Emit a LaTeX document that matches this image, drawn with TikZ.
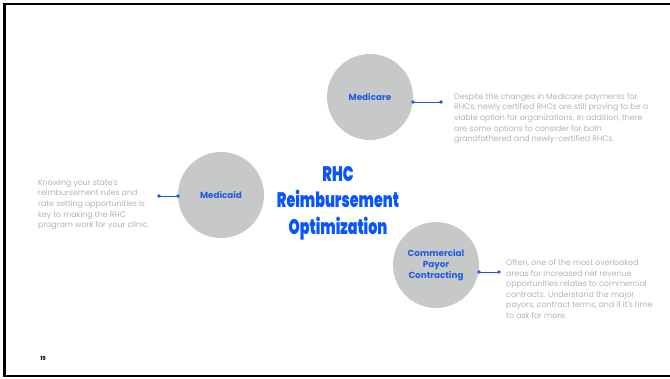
\documentclass[tikz,border=0pt]{standalone}
\usepackage{fontspec}
\usepackage{graphicx}
\setmainfont{Poppins}
\newfontfamily\bodyfont{Poppins}[UprightFont={* Light}]
\newfontfamily\titlefont{Poppins}[UprightFont={* Black}]
\usetikzlibrary{positioning, calc, arrows.meta}

\definecolor{bubblegray}{HTML}{C7C9C9}
\definecolor{labelblue}{HTML}{1D5BE6}
\definecolor{titleblue}{HTML}{0B55FF}
\definecolor{notegray}{HTML}{A0A0A0}

\tikzset{
    bubble/.style={circle, fill=bubblegray, minimum size=86pt, inner sep=0pt,
        font=\fontsize{8.8}{11}\selectfont\bfseries, text=labelblue, align=center},
    note/.style={font=\bodyfont\fontsize{7.9}{10.6}\selectfont, text=notegray,
        align=left, inner sep=0pt},
    link/.style={labelblue, line width=0.8pt},
    dot/.style={circle, fill=labelblue, inner sep=0pt, minimum size=3.6pt}
}

\begin{document}
\begin{tikzpicture}[x=1pt, y=1pt]
    \useasboundingbox (0,0) rectangle (670,378);

    % Slide frame
    \draw[line width=2.6pt] (690,374) -- (4.5,374) -- (4.5,2) -- (690,2);

    % Title
    \node[titleblue, align=center, font=\titlefont\fontsize{21}{26.5}\selectfont] (title) at (338,175)
        {\scalebox{0.68}[1]{RHC}\\ \scalebox{0.68}[1]{Reimbursement}\\ \scalebox{0.68}[1]{Optimization}};

    % Bubbles
    \node[bubble] (medicare) at (370,281) {Medicare};
    \node[bubble] (medicaid) at (221,183) {Medicaid};
    \node[bubble] (commercial) at (436,113) {Commercial\\Payor\\Contracting};

    % Connector dots
    \coordinate (medicare-in) at ($(medicare.center)+(43,-5)$);
    \coordinate (medicare-out) at ($(medicare-in)+(28,0)$);
    \coordinate (medicaid-in) at ($(medicaid.center)+(-43,-1)$);
    \coordinate (medicaid-out) at ($(medicaid-in)+(-19,0)$);
    \coordinate (commercial-in) at ($(commercial.center)+(43,-7)$);
    \coordinate (commercial-out) at ($(commercial-in)+(20,0)$);

    \foreach \side in {medicare, medicaid, commercial} {
        \draw[link] (\side-in) -- (\side-out);
        \node[dot] at (\side-in) {};
        \node[dot] at (\side-out) {};
    }

    % Notes
    \node[note, anchor=west] (medicare-note) at (454,259.5)
        {Despite the changes in Medicare payments for\\
         RHCs, newly certified RHCs are still proving to be a\\
         viable option for organizations. In addition, there\\
         are some options to consider for both\\
         grandfathered and newly-certified RHCs.};
    \node[note, anchor=west] (medicaid-note) at (38,173.5)
        {Knowing your state's\\
         reimbursement rules and\\
         rate setting opportunities is\\
         key to making the RHC\\
         program work for your clinic.};
    \node[note, anchor=west] (commercial-note) at (506,89)
        {Often, one of the most overlooked\\
         areas for increased net revenue\\
         opportunities relates to commercial\\
         contracts. Understand the major\\
         payors, contract terms, and if it's time\\
         to ask for more.};

    % Page number
    \node[font=\fontsize{5.5}{6}\selectfont\bfseries] (page) at (43,20) {19};
\end{tikzpicture}
\end{document}
